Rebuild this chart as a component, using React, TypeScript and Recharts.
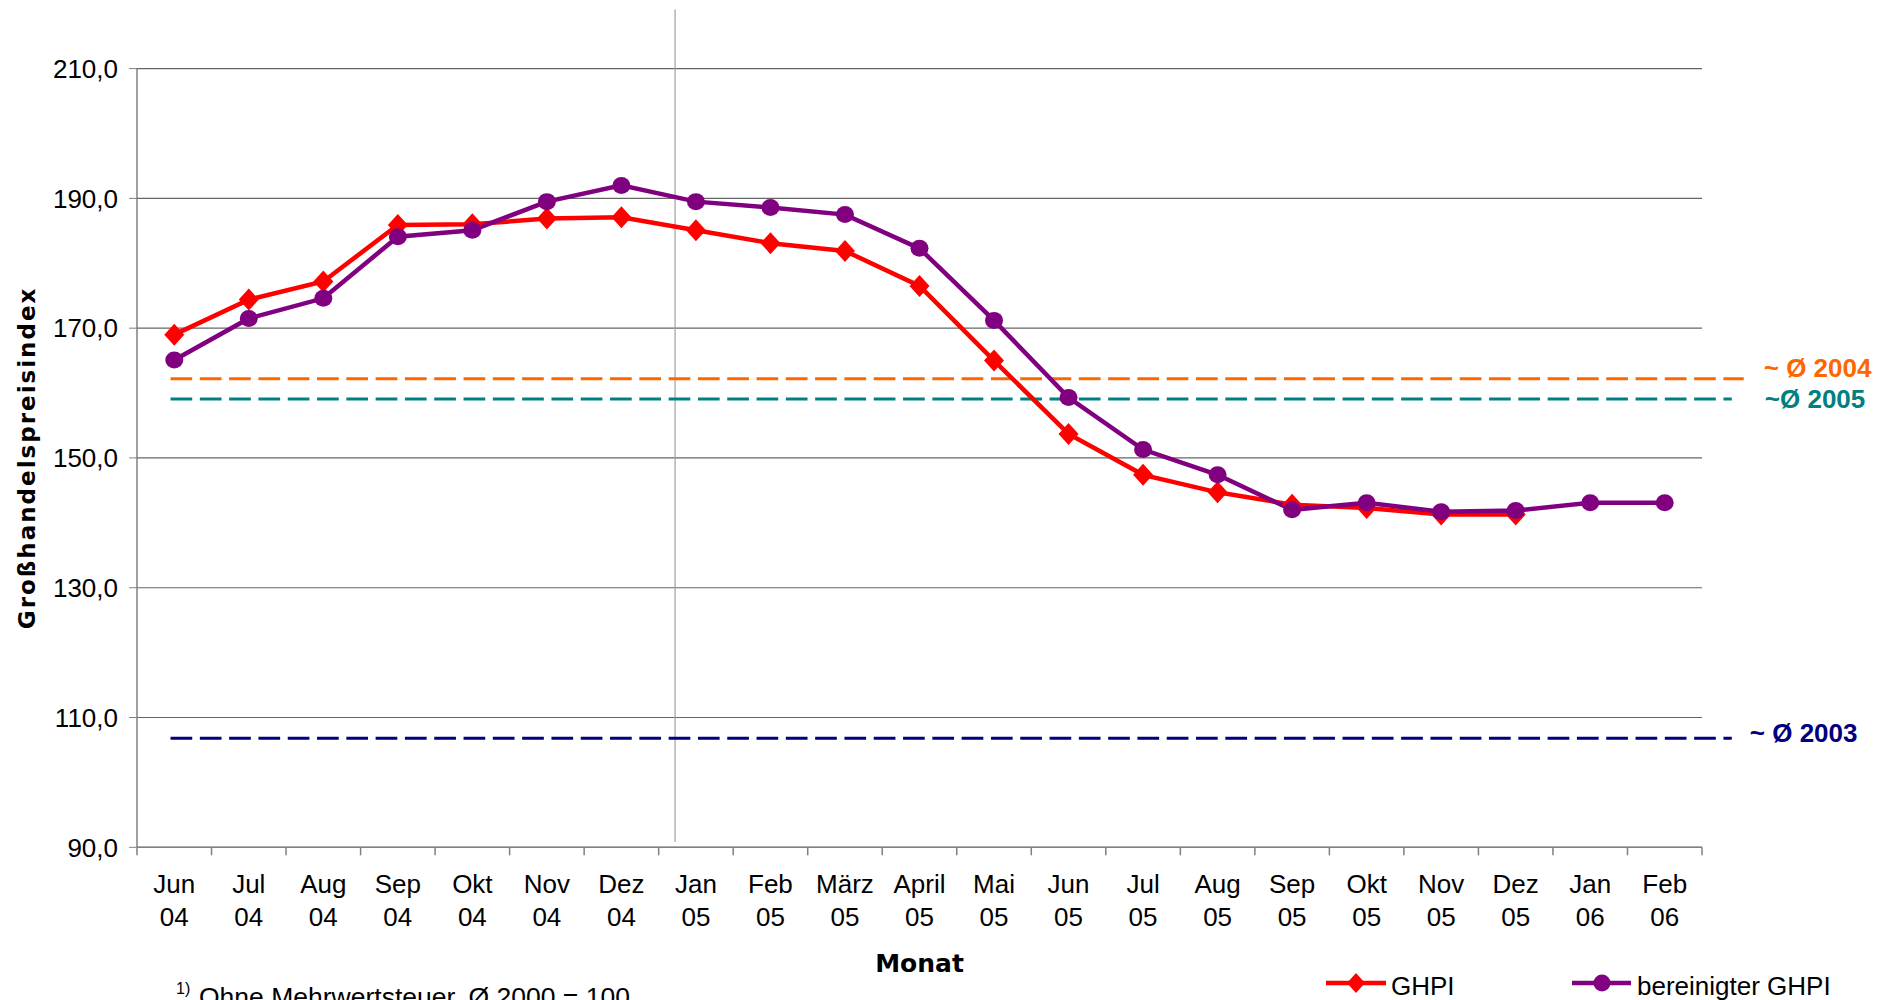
import React from 'react';
import { LineChart, Line, XAxis, YAxis, CartesianGrid, ReferenceLine } from 'recharts';

const months = ['Jun', 'Jul', 'Aug', 'Sep', 'Okt', 'Nov', 'Dez', 'Jan', 'Feb', 'März', 'April', 'Mai', 'Jun', 'Jul', 'Aug', 'Sep', 'Okt', 'Nov', 'Dez', 'Jan', 'Feb'];
const years = ['04', '04', '04', '04', '04', '04', '04', '05', '05', '05', '05', '05', '05', '05', '05', '05', '05', '05', '05', '06', '06'];
const ghpi = [169.0, 174.4, 177.2, 185.9, 186.0, 186.9, 187.1, 185.1, 183.1, 181.9, 176.5, 165.0, 153.7, 147.4, 144.7, 142.8, 142.3, 141.3, 141.3, null, null];
const bereinigt = [165.1, 171.5, 174.6, 184.1, 185.1, 189.5, 192.0, 189.5, 188.6, 187.5, 182.3, 171.2, 159.3, 151.3, 147.4, 142.0, 143.1, 141.7, 141.9, 143.1, 143.1];
const yTicks = [90, 110, 130, 150, 170, 190, 210];
const avg2004 = 162.2;
const avg2005 = 159.1;
const avg2003 = 106.8;
const divider = 7.22;

const data = months.map((m, i) => ({ x: i + 0.5, ghpi: ghpi[i], ber: bereinigt[i] }));
const xTicks: number[] = [];
for (let i = 0; i <= months.length * 2; i++) xTicks.push(i / 2);

const ARIAL = 'Liberation Sans, Arial, sans-serif';
const VERD = 'DejaVu Sans, Verdana, sans-serif';

const XTick = (props: any) => {
  const { x, y, payload } = props;
  const v = payload.value;
  if (Number.isInteger(v)) {
    return <line x1={x} x2={x} y1={y} y2={y + 8} stroke="#808080" strokeWidth={1.5} />;
  }
  const i = Math.floor(v);
  return (
    <text x={x} y={y} textAnchor="middle" fontFamily={ARIAL} fontSize={26} fill="#000">
      <tspan x={x} dy={46}>{months[i]}</tspan>
      <tspan x={x} dy={33}>{years[i]}</tspan>
    </text>
  );
};

const Diamond = (props: any) => {
  const { cx, cy, index } = props;
  if (cy == null || cx == null) return <g key={`d${index}`} />;
  return <path key={`d${index}`} d={`M${cx},${cy - 11}L${cx + 10},${cy}L${cx},${cy + 11}L${cx - 10},${cy}Z`} fill="#FF0000" />;
};

const Circle = (props: any) => {
  const { cx, cy, index } = props;
  if (cy == null || cx == null) return <g key={`c${index}`} />;
  return <ellipse key={`c${index}`} cx={cx} cy={cy} rx={9} ry={8.5} fill="#800080" />;
};

const endLabel = (text: string, color: string, dx: number, dy: number) => (props: any) => {
  const vb = props.viewBox || {};
  return (
    <text x={vb.x + vb.width + dx} y={vb.y + dy} fontFamily={ARIAL} fontWeight="bold" fontSize={26} fill={color}>
      {text}
    </text>
  );
};

export default function App() {
  return (
    <div style={{ position: 'absolute', left: 0, top: 0, width: 1887, height: 1000, background: '#fff', overflow: 'hidden' }}>
      <LineChart width={1887} height={1000} data={data} margin={{ top: 68.6, right: 185, bottom: 92.7, left: 0 }}>
        <CartesianGrid vertical={false} stroke="#666" strokeWidth={1.2} />
        <XAxis
          dataKey="x"
          type="number"
          domain={[0, 21]}
          ticks={xTicks}
          interval={0}
          allowDecimals
          tick={<XTick />}
          tickLine={false}
          tickSize={0}
          tickMargin={0}
          axisLine={{ stroke: '#808080', strokeWidth: 1.5 }}
          height={60}
          label={{
            content: (p: any) => {
              const vb = p.viewBox;
              return (
                <text x={vb.x + vb.width / 2} y={972} textAnchor="middle" fontFamily={VERD} fontWeight="bold" fontSize={25} fill="#000">
                  Monat
                </text>
              );
            },
          }}
        />
        <YAxis
          domain={[90, 210]}
          ticks={yTicks}
          interval={0}
          width={137}
          tickFormatter={(v: number) => v.toFixed(1).replace('.', ',')}
          tick={{ fontFamily: ARIAL, fontSize: 26, fill: '#000' }}
          tickSize={8}
          tickMargin={11}
          tickLine={{ stroke: '#808080' }}
          axisLine={{ stroke: '#808080', strokeWidth: 1.5 }}
          label={{
            content: (p: any) => {
              const vb = p.viewBox;
              const cx = 27;
              const cy = vb.y + vb.height / 2;
              return (
                <text x={cx} y={cy} transform={`rotate(-90 ${cx} ${cy})`} textAnchor="middle" dominantBaseline="central" fontFamily={VERD} fontWeight="bold" fontSize={23} letterSpacing={2} fill="#000">
                  Großhandelspreisindex
                </text>
              );
            },
          }}
        />
        <ReferenceLine segment={[{ x: divider, y: 219.1 }, { x: divider, y: 90.8 }]} stroke="#a0a0a0" strokeWidth={1.2} ifOverflow="visible" />
        <ReferenceLine
          segment={[{ x: 0.45, y: avg2004 }, { x: 21.56, y: avg2004 }]}
          stroke="#FF6600"
          strokeWidth={3}
          strokeDasharray="21.7 7.6"
          ifOverflow="visible"
          label={{ content: endLabel('~ Ø 2004', '#FF6600', 20, -2) }}
        />
        <ReferenceLine
          segment={[{ x: 0.45, y: avg2005 }, { x: 21.4, y: avg2005 }]}
          stroke="#008080"
          strokeWidth={3}
          strokeDasharray="21.7 7.6"
          ifOverflow="visible"
          label={{ content: endLabel('~Ø 2005', '#008080', 33, 9) }}
        />
        <ReferenceLine
          segment={[{ x: 0.45, y: avg2003 }, { x: 21.4, y: avg2003 }]}
          stroke="#000080"
          strokeWidth={3}
          strokeDasharray="21.7 7.6"
          ifOverflow="visible"
          label={{ content: endLabel('~ Ø 2003', '#000080', 18, 3.5) }}
        />
        <Line dataKey="ghpi" stroke="#FF0000" strokeWidth={4.5} dot={Diamond} activeDot={false} isAnimationActive={false} connectNulls={false} />
        <Line dataKey="ber" stroke="#800080" strokeWidth={4.5} dot={Circle} activeDot={false} isAnimationActive={false} />
      </LineChart>
      <svg width={1887} height={1000} style={{ position: 'absolute', left: 0, top: 0, pointerEvents: 'none' }}>
        <line x1={1326} x2={1386} y1={983} y2={983} stroke="#FF0000" strokeWidth={4.5} />
        <path d="M1356,973L1365,983L1356,993L1347,983Z" fill="#FF0000" />
        <text x={1391} y={995} fontFamily={ARIAL} fontSize={26} fill="#000">GHPI</text>
        <line x1={1572} x2={1631} y1={983} y2={983} stroke="#800080" strokeWidth={4.5} />
        <circle cx={1602} cy={983} r={8.5} fill="#800080" />
        <text x={1637} y={995} fontFamily={ARIAL} fontSize={26} fill="#000">bereinigter GHPI</text>
        <text x={176} y={994} fontFamily={ARIAL} fontSize={16} fill="#000">1)</text>
        <text x={199} y={1006} fontFamily={ARIAL} fontSize={26.5} fill="#000">Ohne Mehrwertsteuer, Ø 2000 = 100</text>
      </svg>
    </div>
  );
}
